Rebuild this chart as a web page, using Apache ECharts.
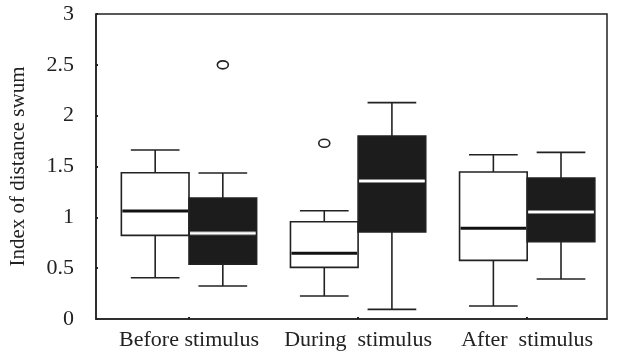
<!DOCTYPE html>
<html>
<head>
<meta charset="utf-8">
<script src="https://cdn.jsdelivr.net/npm/echarts@6/dist/echarts.min.js"></script>
<style>html,body{margin:0;padding:0;background:#fff}#c{width:626px;height:353px}</style>
</head>
<body>
<div id="c"></div>
<script>
const categories = ['Before stimulus', 'During  stimulus', 'After  stimulus'];
const categoryPositions = [1, 2, 3];
const yTicks = [0, 0.5, 1, 1.5, 2, 2.5, 3];
// [min, Q1, median, Q3, max]
const whiteStats = [
  [0.406, 0.823, 1.062, 1.439, 1.662],
  [0.226, 0.508, 0.646, 0.957, 1.065],
  [0.128, 0.577, 0.892, 1.446, 1.616]
];
const blackStats = [
  [0.325, 0.538, 0.843, 1.190, 1.436],
  [0.095, 0.856, 1.357, 1.800, 2.128],
  [0.393, 0.760, 1.052, 1.387, 1.639]
];
// [category position, value]
const whiteOutliers = [[2, 1.728]];
const blackOutliers = [[1, 2.5]];

const FONT = "'Liberation Serif', 'DejaVu Serif', serif";
const INK = '#222';
const BOX_FRAC = 0.4;

function boxRenderer(side, fill, medColor, medWidth) {
  return function (params, api) {
    const x = api.value(0);
    const unit = api.size([1, 0])[0];
    const w = unit * BOX_FRAC;
    const cx = api.coord([x, 0])[0];
    const left = side < 0 ? cx - w : cx;
    const mid = left + w / 2;
    const y = i => api.coord([x, api.value(i)])[1];
    const yMin = y(1), yQ1 = y(2), yMed = y(3), yQ3 = y(4), yMax = y(5);
    const cap = w * 0.36;
    const ls = { stroke: INK, lineWidth: 1.6 };
    const children = [
      { type: 'line', shape: { x1: mid, y1: yMax, x2: mid, y2: yQ3 }, style: ls },
      { type: 'line', shape: { x1: mid, y1: yQ1, x2: mid, y2: yMin }, style: ls },
      { type: 'line', shape: { x1: mid - cap, y1: yMax, x2: mid + cap, y2: yMax }, style: ls },
      { type: 'line', shape: { x1: mid - cap, y1: yMin, x2: mid + cap, y2: yMin }, style: ls },
      { type: 'rect', shape: { x: left, y: yQ3, width: w, height: yQ1 - yQ3 }, style: { fill: fill, stroke: INK, lineWidth: 1.6 } }
    ];
    if (side > 0) {
      children.push({ type: 'line', shape: { x1: left + 1, y1: yMed, x2: left + w - 1, y2: yMed }, style: { stroke: '#888', lineWidth: 4 } });
    }
    children.push({ type: 'line', shape: { x1: left + 1, y1: yMed, x2: left + w - 1, y2: yMed }, style: { stroke: medColor, lineWidth: medWidth } });
    return { type: 'group', children: children };
  };
}

function outlierRenderer(side) {
  return function (params, api) {
    const x = api.value(0);
    const unit = api.size([1, 0])[0];
    const w = unit * BOX_FRAC;
    const p = api.coord([x, api.value(1)]);
    const cx = p[0] + side * w / 2;
    return { type: 'ellipse', shape: { cx: cx, cy: p[1], rx: 5.5, ry: 4 }, style: { fill: '#fff', stroke: INK, lineWidth: 1.6 } };
  };
}

const chart = echarts.init(document.getElementById('c'), null, { renderer: 'canvas' });
chart.setOption({
  animation: false,
  backgroundColor: '#fff',
  grid: { left: 95, right: 19, top: 14, bottom: 34, show: true, borderColor: INK, borderWidth: 1.5, backgroundColor: 'transparent' },
  xAxis: {
    type: 'value', min: 0.45, max: 3.472,
    axisLine: { show: true, lineStyle: { color: INK, width: 1.5 } },
    splitLine: { show: false },
    axisTick: { show: true, inside: true, length: 2, customValues: categoryPositions, lineStyle: { color: INK, width: 2 } },
    axisLabel: {
      customValues: categoryPositions,
      formatter: v => categories[categoryPositions.indexOf(Math.round(v))] || '',
      fontFamily: FONT, fontSize: 22, color: INK, margin: 10
    }
  },
  yAxis: {
    type: 'value', min: yTicks[0], max: yTicks[yTicks.length - 1], interval: 0.5,
    name: 'Index of distance swum', nameLocation: 'middle', nameGap: 67,
    nameTextStyle: { fontFamily: FONT, fontSize: 21, color: INK },
    axisLine: { show: true, lineStyle: { color: INK, width: 1.5 } },
    splitLine: { show: false },
    axisTick: { show: true, inside: true, length: 2, lineStyle: { color: INK, width: 2 } },
    axisLabel: { fontFamily: FONT, fontSize: 22, color: INK, margin: 22 }
  },
  series: [
    { type: 'custom', renderItem: boxRenderer(-1, '#fff', '#111', 3), data: whiteStats.map((s, i) => [categoryPositions[i]].concat(s)), encode: { x: 0, y: [1, 2, 3, 4, 5] } },
    { type: 'custom', renderItem: boxRenderer(1, '#1c1c1c', '#fff', 2), data: blackStats.map((s, i) => [categoryPositions[i]].concat(s)), encode: { x: 0, y: [1, 2, 3, 4, 5] } },
    { type: 'custom', renderItem: outlierRenderer(-1), data: whiteOutliers, encode: { x: 0, y: 1 } },
    { type: 'custom', renderItem: outlierRenderer(1), data: blackOutliers, encode: { x: 0, y: 1 } }
  ]
});
</script>
</body>
</html>
